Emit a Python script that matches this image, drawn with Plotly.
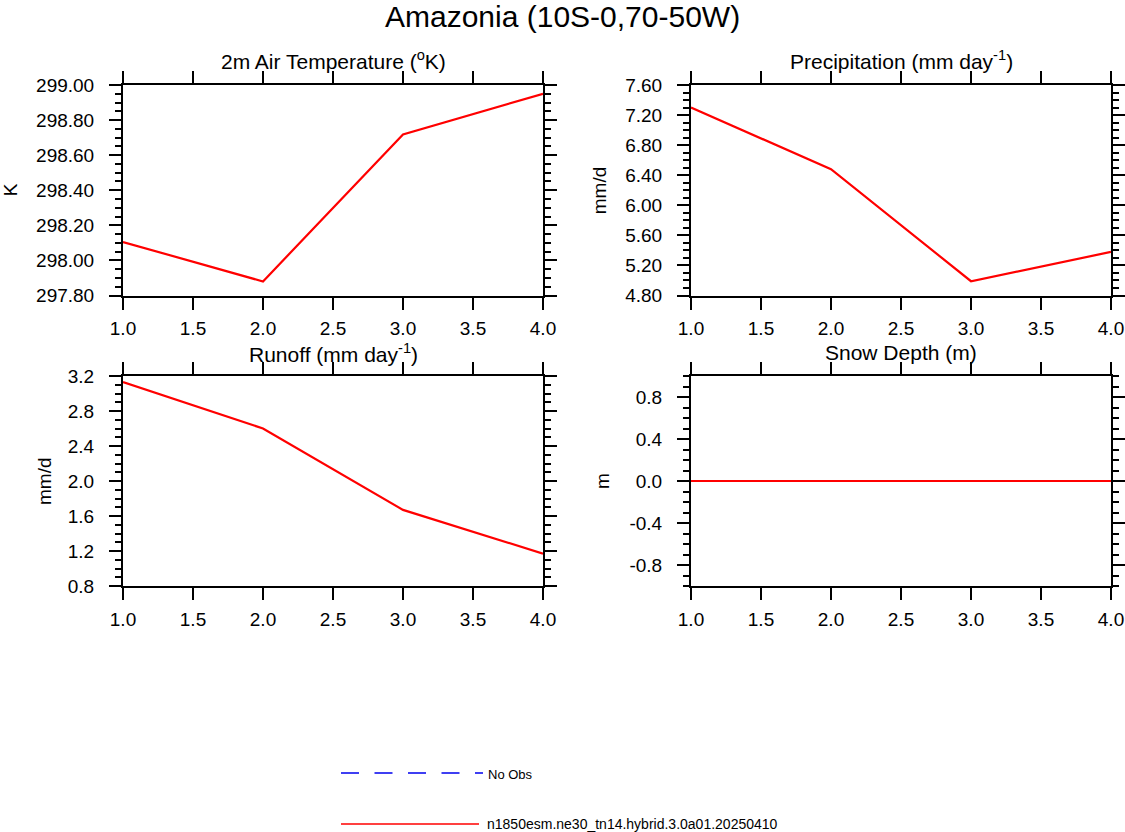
import plotly.graph_objects as go

# ---------------- data ----------------
x_vals = [1, 2, 3, 4]
temp_K = [298.105, 297.88, 298.718, 298.95]
precip_mmd = [7.30, 6.48, 4.99, 5.38]
runoff_mmd = [3.13, 2.60, 1.67, 1.17]
snow_m = [0.0, 0.0, 0.0, 0.0]

x_ticks = [1.0, 1.5, 2.0, 2.5, 3.0, 3.5, 4.0]
x_ticklabels = ["1.0", "1.5", "2.0", "2.5", "3.0", "3.5", "4.0"]
temp_ticks = [297.8, 298.0, 298.2, 298.4, 298.6, 298.8, 299.0]
temp_ticklabels = ["297.80", "298.00", "298.20", "298.40", "298.60", "298.80", "299.00"]
precip_ticks = [4.8, 5.2, 5.6, 6.0, 6.4, 6.8, 7.2, 7.6]
precip_ticklabels = ["4.80", "5.20", "5.60", "6.00", "6.40", "6.80", "7.20", "7.60"]
runoff_ticks = [0.8, 1.2, 1.6, 2.0, 2.4, 2.8, 3.2]
runoff_ticklabels = ["0.8", "1.2", "1.6", "2.0", "2.4", "2.8", "3.2"]
snow_ticks = [-0.8, -0.4, 0.0, 0.4, 0.8]
snow_ticklabels = ["-0.8", "-0.4", "0.0", "0.4", "0.8"]

main_title = "Amazonia (10S-0,70-50W)"
panel_titles = ["2m Air Temperature (<sup>o</sup>K)",
                "Precipitation (mm day<sup>-1</sup>)",
                "Runoff (mm day<sup>-1</sup>)",
                "Snow Depth (m)"]
y_titles = ["K", "mm/d", "mm/d", "m"]
legend_labels = ["No Obs", "n1850esm.ne30_tn14.hybrid.3.0a01.20250410"]

# ---------------- layout helpers ----------------
W, H = 1125, 832
FONT = "Liberation Sans, Arial, Helvetica, sans-serif"


def px(xp):
    return xp / W


def py(yp):
    return 1 - yp / H


# panel pixel boxes (left, right, top, bottom)
boxes = [(123, 543, 85, 295.5), (691, 1111, 85, 295.5),
         (123, 543, 376, 586), (691, 1111, 376, 586)]

series = [temp_K, precip_mmd, runoff_mmd, snow_m]
yranges = [[297.8, 299.0], [4.8, 7.6], [0.8, 3.2], [-1.0, 1.0]]
yticks = [temp_ticks, precip_ticks, runoff_ticks, snow_ticks]
yticklabels = [temp_ticklabels, precip_ticklabels, runoff_ticklabels, snow_ticklabels]
yminor = [0.05, 0.1, 0.1, 0.1]
ytitle_x = [10, 599, 44, 602]
title_gap = [25, 25, 23.5, 23.5]

fig = go.Figure()
layout = dict(
    template="none",
    width=W, height=H, autosize=False,
    margin=dict(l=0, r=0, t=0, b=0, pad=0),
    paper_bgcolor="white", plot_bgcolor="white",
    font=dict(family=FONT, size=19, color="black"),
    showlegend=False,
)
annotations = []

for i in range(4):
    n = "" if i == 0 else str(i + 1)
    l, r, t, b = boxes[i]
    fig.add_trace(go.Scatter(
        x=x_vals, y=series[i], mode="lines",
        line=dict(color="#ff0000", width=2.2),
        xaxis="x" + n, yaxis="y" + n, name=legend_labels[1],
        cliponaxis=False,
    ))
    common = dict(showline=True, linecolor="black", linewidth=2, mirror="ticks",
                  ticks="outside", ticklen=12, tickwidth=2, tickcolor="black",
                  showgrid=False, zeroline=False, automargin=False,
                  tickfont=dict(family=FONT, size=19, color="black"))
    layout["xaxis" + n] = dict(
        common, domain=[px(l), px(r)], anchor="y" + n, range=[1, 4],
        tickmode="array", tickvals=x_ticks, ticktext=x_ticklabels,
        ticklabelstandoff=3,
    )
    layout["yaxis" + n] = dict(
        common, domain=[py(b), py(t)], anchor="x" + n, range=yranges[i],
        tickmode="array", tickvals=yticks[i], ticktext=yticklabels[i],
        ticklabelstandoff=11,
        minor=dict(ticks="outside", ticklen=6, tickwidth=1.5, tickcolor="black",
                   tickmode="linear", tick0=yranges[i][0], dtick=yminor[i]),
    )
    # panel title
    annotations.append(dict(
        text=panel_titles[i], x=px((l + r) / 2), y=py(t - title_gap[i]),
        xref="paper", yref="paper", xanchor="center", yanchor="middle",
        showarrow=False, font=dict(family=FONT, size=21, color="black")))
    # y axis title
    annotations.append(dict(
        text=y_titles[i], x=px(ytitle_x[i]), y=py((t + b) / 2),
        xref="paper", yref="paper", xanchor="center", yanchor="middle",
        textangle=-90, showarrow=False,
        font=dict(family=FONT, size=19, color="black")))

# main title
annotations.append(dict(
    text=main_title, x=0.5, y=py(16), xref="paper", yref="paper",
    xanchor="center", yanchor="middle", showarrow=False,
    font=dict(family=FONT, size=30, color="black")))

# legend (drawn below the panels)
shapes = [
    dict(type="line", xref="paper", yref="paper", x0=px(341), x1=px(483),
         y0=py(773), y1=py(773), line=dict(color="#0000ee", width=1.4, dash="18px,15.5px")),
    dict(type="line", xref="paper", yref="paper", x0=px(341), x1=px(479),
         y0=py(824), y1=py(824), line=dict(color="#ff0000", width=1.4)),
]
annotations.append(dict(
    text=legend_labels[0], x=px(486), y=py(774), xref="paper", yref="paper",
    xanchor="left", yanchor="middle", showarrow=False,
    font=dict(family=FONT, size=13, color="black")))
annotations.append(dict(
    text=legend_labels[1], x=px(485), y=py(824), xref="paper", yref="paper",
    xanchor="left", yanchor="middle", showarrow=False,
    font=dict(family=FONT, size=14, color="black")))

layout["annotations"] = annotations
layout["shapes"] = shapes
fig.update_layout(**layout)
fig.write_html("out.html",
               config={"displayModeBar": False},
               post_script="document.body.style.margin='0';document.body.style.overflow='hidden';")
